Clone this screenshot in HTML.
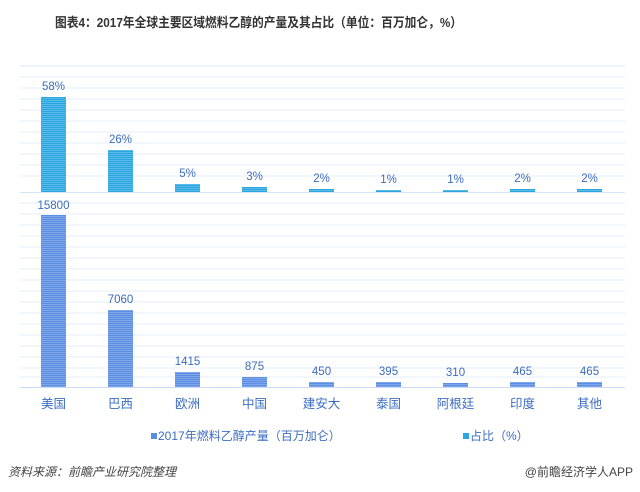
<!DOCTYPE html>
<html><head><meta charset="utf-8"><style>
body{margin:0;background:#fff;}
svg{display:block;font-family:"Liberation Sans","Noto Sans CJK SC",sans-serif;}
</style></head><body>
<svg width="640" height="492" viewBox="0 0 640 492" xmlns="http://www.w3.org/2000/svg">
<defs>
<pattern id="pb" width="4" height="2" patternUnits="userSpaceOnUse"><rect width="4" height="2" fill="#5b8de2"/><rect width="4" height="0.7" fill="#8fb2ee"/></pattern>
<pattern id="pc" width="4" height="2" patternUnits="userSpaceOnUse"><rect width="4" height="2" fill="#2aa5df"/><rect width="4" height="0.7" fill="#6cc4ec"/></pattern>
</defs>
<rect width="640" height="492" fill="#fff"/>
<text x="55" y="27" font-size="13" font-weight="bold" fill="#333" textLength="407" lengthAdjust="spacingAndGlyphs">图表4：2017年全球主要区域燃料乙醇的产量及其占比（单位：百万加仑，%）</text>
<g stroke="#e6eefb" stroke-width="1">
<line x1="20" x2="625" y1="66" y2="66" stroke="#d6e4fa"/>
<line x1="20" x2="625" y1="77" y2="77"/><line x1="20" x2="625" y1="88" y2="88"/><line x1="20" x2="625" y1="99" y2="99"/><line x1="20" x2="625" y1="110" y2="110"/><line x1="20" x2="625" y1="121" y2="121"/><line x1="20" x2="625" y1="132" y2="132"/><line x1="20" x2="625" y1="143" y2="143"/><line x1="20" x2="625" y1="154" y2="154"/><line x1="20" x2="625" y1="165" y2="165"/><line x1="20" x2="625" y1="176" y2="176"/><line x1="20" x2="625" y1="203" y2="203"/><line x1="20" x2="625" y1="214" y2="214"/><line x1="20" x2="625" y1="225" y2="225"/><line x1="20" x2="625" y1="236" y2="236"/><line x1="20" x2="625" y1="247" y2="247"/><line x1="20" x2="625" y1="258" y2="258"/><line x1="20" x2="625" y1="269" y2="269"/><line x1="20" x2="625" y1="280" y2="280"/><line x1="20" x2="625" y1="291" y2="291"/><line x1="20" x2="625" y1="302" y2="302"/><line x1="20" x2="625" y1="313" y2="313"/><line x1="20" x2="625" y1="324" y2="324"/><line x1="20" x2="625" y1="335" y2="335"/><line x1="20" x2="625" y1="346" y2="346"/><line x1="20" x2="625" y1="357" y2="357"/><line x1="20" x2="625" y1="368" y2="368"/><line x1="20" x2="625" y1="377" y2="377"/>
<line x1="20" x2="625" y1="192.5" y2="192.5" stroke="#d6e4fa"/>
<line x1="20" x2="625" y1="387.5" y2="387.5" stroke="#c8daf6"/>
</g>
<g fill="url(#pc)">
<rect x="41" y="97" width="25" height="95"/>
<rect x="108" y="150" width="25" height="42"/>
<rect x="175" y="184" width="25" height="8"/>
<rect x="242" y="187" width="25" height="5"/>
<rect x="309" y="189" width="25" height="3"/>
<rect x="376" y="190" width="25" height="2"/>
<rect x="443" y="190" width="25" height="2"/>
<rect x="510" y="189" width="25" height="3"/>
<rect x="577" y="189" width="25" height="3"/>
</g>
<g fill="url(#pb)">
<rect x="41" y="215" width="25" height="172"/>
<rect x="108" y="310" width="25" height="77"/>
<rect x="175" y="372" width="25" height="15"/>
<rect x="242" y="377" width="25" height="10"/>
<rect x="309" y="382" width="25" height="5"/>
<rect x="376" y="382" width="25" height="5"/>
<rect x="443" y="383" width="25" height="4"/>
<rect x="510" y="382" width="25" height="5"/>
<rect x="577" y="382" width="25" height="5"/>
</g>
<g font-size="11.5" fill="#3c6cc0" text-anchor="middle">
<text x="53.5" y="90">58%</text><text x="120.5" y="143">26%</text><text x="187.5" y="177">5%</text><text x="254.5" y="180">3%</text><text x="321.5" y="182">2%</text><text x="388.5" y="183">1%</text><text x="455.5" y="183">1%</text><text x="522.5" y="182">2%</text><text x="589.5" y="182">2%</text>
<text x="53.5" y="209">15800</text><text x="120.5" y="303">7060</text><text x="187.5" y="365">1415</text><text x="254.5" y="370">875</text><text x="321.5" y="375">450</text><text x="388.5" y="375">395</text><text x="455.5" y="376">310</text><text x="522.5" y="375">465</text><text x="589.5" y="375">465</text>
</g>
<g font-size="12.5" fill="#3c6cc0" text-anchor="middle">
<text x="53.5" y="408">美国</text><text x="120.5" y="408">巴西</text><text x="187.5" y="408">欧洲</text><text x="254.5" y="408">中国</text><text x="321.5" y="408">建安大</text><text x="388.5" y="408">泰国</text><text x="455.5" y="408">阿根廷</text><text x="522.5" y="408">印度</text><text x="589.5" y="408">其他</text>
</g>
<rect x="151" y="433" width="6" height="6" fill="#5b8de2"/>
<text x="158" y="440" font-size="12" fill="#3c6cc0">2017年燃料乙醇产量（百万加仑）</text>
<rect x="463" y="433" width="6" height="6" fill="#2aa5df"/>
<text x="470" y="440" font-size="12" fill="#3c6cc0">占比（%）</text>
<text x="8" y="476" font-size="12" font-style="italic" fill="#444">资料来源：前瞻产业研究院整理</text>
<text x="633" y="476" font-size="12" fill="#444" text-anchor="end">@前瞻经济学人APP</text>
</svg>
</body></html>
